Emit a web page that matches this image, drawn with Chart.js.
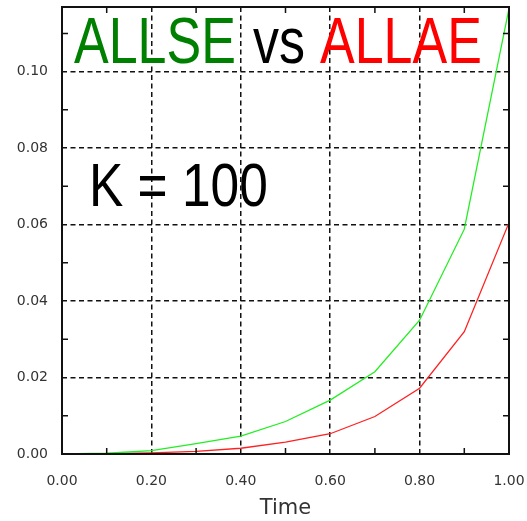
<!DOCTYPE html>
<html>
<head>
<meta charset="utf-8">
<script src="https://cdn.jsdelivr.net/npm/chart.js@4"></script>
<style>
  html, body { margin: 0; padding: 0; background: #fff; }
  #wrap { width: 527px; height: 521px; }
</style>
</head>
<body>
<div id="wrap"><canvas id="canvas"></canvas></div>
<script>
// values
var times = [0.0, 0.1, 0.2, 0.3, 0.4, 0.5, 0.6, 0.7, 0.8, 0.9, 1.0];
var allse = [0, 0.0002, 0.0009, 0.0027, 0.0047, 0.0085, 0.0141, 0.0215, 0.035, 0.0588, 0.1165];
var allae = [0, 0.0001, 0.0003, 0.0007, 0.0015, 0.0031, 0.0053, 0.0098, 0.0172, 0.032, 0.0605];

var xTicks = [0.0, 0.2, 0.4, 0.6, 0.8, 1.0];
var yTicks = [0.0, 0.02, 0.04, 0.06, 0.08, 0.10];
var xMinor = [0.1, 0.3, 0.5, 0.7, 0.9];
var yMinor = [0.01, 0.03, 0.05, 0.07, 0.09, 0.11];

function points(ys) {
  return times.map(function (t, i) {
    return { x: t, y: ys[i] };
  });
}

function noPad(s) {
  s.paddingTop = 0;
  s.paddingBottom = 0;
  s.paddingLeft = 0;
  s.paddingRight = 0;
}

// frame, inward minor ticks and the big texts
var decor = {
  id: "decor",
  afterDraw: function (chart) {
    var ctx = chart.ctx;
    var a = chart.chartArea;
    var xs = chart.scales.x;
    var ys = chart.scales.y;
    var len = 6;
    ctx.save();
    ctx.strokeStyle = "#111";
    ctx.lineWidth = 1.5;
    ctx.beginPath();
    xMinor.forEach(function (v) {
      var px = xs.getPixelForValue(v);
      ctx.moveTo(px, a.bottom);
      ctx.lineTo(px, a.bottom - len);
      ctx.moveTo(px, a.top);
      ctx.lineTo(px, a.top + len);
    });
    yMinor.forEach(function (v) {
      var py = ys.getPixelForValue(v);
      ctx.moveTo(a.left, py);
      ctx.lineTo(a.left + len, py);
      ctx.moveTo(a.right, py);
      ctx.lineTo(a.right - len, py);
    });
    ctx.stroke();
    ctx.lineWidth = 2;
    ctx.strokeRect(a.left, a.top, a.right - a.left, a.bottom - a.top);

    function squeezed(text, x, y, size, sx, color) {
      ctx.save();
      ctx.font = size + "px 'Liberation Sans', Arial, sans-serif";
      ctx.fillStyle = color;
      ctx.textBaseline = "alphabetic";
      ctx.translate(x, y);
      ctx.scale(sx, 1);
      ctx.fillText(text, 0, 0);
      ctx.restore();
    }
    squeezed("ALLSE", 74, 63, 65, 0.8, "#008000");
    squeezed("vs", 253, 63, 65, 0.8, "#000");
    squeezed("ALLAE", 320, 63, 65, 0.8, "#ff0000");
    squeezed("K = 100", 89, 206, 62, 0.83, "#000");
    ctx.restore();
  },
};

var config = {
  type: "line",
  data: {
    datasets: [
      {
        label: "ALLSE",
        data: points(allse),
        borderColor: "#22ee22",
        backgroundColor: "#22ee22",
        borderWidth: 1.3,
        pointRadius: 0,
        tension: 0,
      },
      {
        label: "ALLAE",
        data: points(allae),
        borderColor: "#ff2020",
        backgroundColor: "#ff2020",
        borderWidth: 1.3,
        pointRadius: 0,
        tension: 0,
      },
    ],
  },
  options: {
    responsive: true,
    maintainAspectRatio: false,
    animation: false,
    layout: { padding: { top: 7, right: 18, left: 0, bottom: 0 } },
    plugins: {
      legend: { display: false },
      tooltip: { enabled: false },
    },
    scales: {
      x: {
        type: "linear",
        min: 0,
        max: 1,
        afterBuildTicks: function (s) {
          s.ticks = xTicks.map(function (v) { return { value: v }; });
        },
        afterFit: function (s) { s.height = 67; noPad(s); },
        border: { display: false, dash: [5, 3.5] },
        grid: { color: "#111", lineWidth: 1.5, drawTicks: false },
        ticks: {
          padding: 19,
          color: "#333",
          font: { family: "'DejaVu Sans'", size: 14 },
          callback: function (v) { return Number(v).toFixed(2); },
        },
        title: {
          display: true,
          text: "Time",
          color: "#333",
          font: { family: "'DejaVu Sans'", size: 21 },
          padding: { top: 4, bottom: 0 },
        },
      },
      y: {
        type: "linear",
        min: 0,
        max: 0.1169,
        afterBuildTicks: function (s) {
          s.ticks = yTicks.map(function (v) { return { value: v }; });
        },
        afterFit: function (s) { s.width = 62; noPad(s); },
        border: { display: false, dash: [5, 3.5] },
        grid: { color: "#111", lineWidth: 1.5, drawTicks: false },
        ticks: {
          padding: 14,
          color: "#333",
          font: { family: "'DejaVu Sans'", size: 14 },
          callback: function (v) { return Number(v).toFixed(2); },
        },
      },
    },
  },
  plugins: [decor],
};

var myChart = new Chart(document.getElementById("canvas"), config);
</script>
</body>
</html>
